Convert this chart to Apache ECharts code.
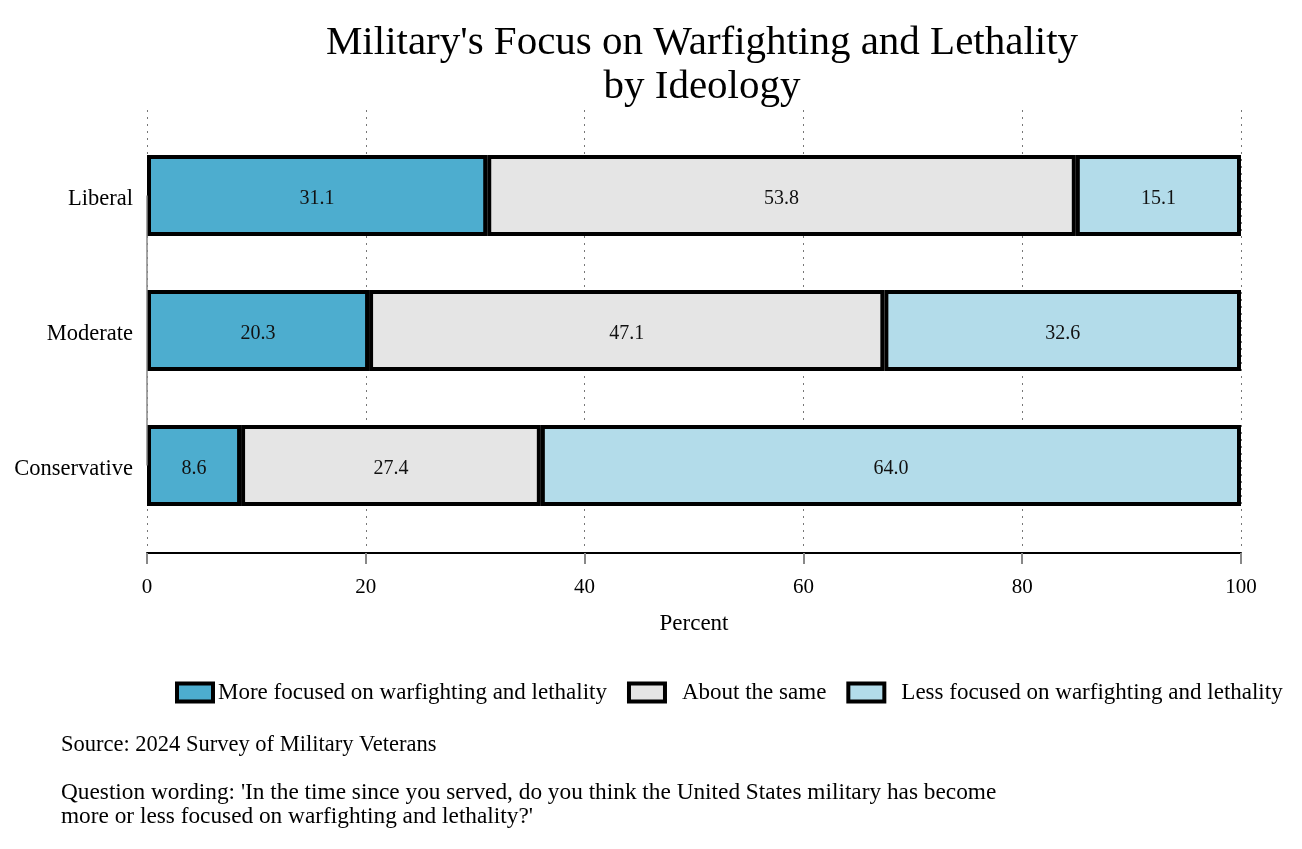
<!DOCTYPE html>
<html>
<head>
<meta charset="utf-8">
<script src="https://cdn.jsdelivr.net/npm/echarts@6/dist/echarts.min.js"></script>
<style>html,body{margin:0;padding:0;background:#fff;}#c{width:1302px;height:849px;}</style>
</head>
<body>
<div id="c"></div>
<script>
const categories = ['Liberal', 'Moderate', 'Conservative'];
const seriesNames = ['More focused on warfighting and lethality', 'About the same', 'Less focused on warfighting and lethality'];
const moreFocused = [31.1, 20.3, 8.6];
const aboutSame = [53.8, 47.1, 27.4];
const lessFocused = [15.1, 32.6, 64.0];
const xTicks = [0, 20, 40, 60, 80, 100];
const colors = ['#4DADCF', '#E5E5E5', '#B3DCEA'];
const FONT = '"Liberation Serif", "DejaVu Serif", serif';

const chart = echarts.init(document.getElementById('c'));
const values = [moreFocused, aboutSame, lessFocused];
const series = values.map((v, i) => ({
  name: seriesNames[i],
  type: 'bar',
  stack: 'total',
  xAxisIndex: 0,
  yAxisIndex: 0,
  barWidth: 81,
  data: v,
  itemStyle: { color: colors[i], borderColor: '#000', borderWidth: 4 },
  label: { show: true, position: 'inside', offset: [0, 3], formatter: p => p.value.toFixed(1), color: '#111', fontFamily: FONT, fontSize: 20 },
  emphasis: { disabled: true }
}));
series[0].markLine = {
  silent: true, symbol: 'none', label: { show: false },
  lineStyle: { color: '#888', width: 1.5, type: 'solid' },
  data: [[{ coord: [0, categories[0]] }, { coord: [0, categories[categories.length - 1]] }]]
};

chart.setOption({
  animation: false,
  textStyle: { fontFamily: FONT },
  title: {
    text: "Military's Focus on Warfighting and Lethality\nby Ideology",
    left: 697, top: 16, textAlign: 'center',
    textStyle: { fontFamily: FONT, fontSize: 41, fontWeight: 'normal', color: '#000', lineHeight: 44 }
  },
  legend: {
    data: [
      { name: seriesNames[0] },
      { name: seriesNames[1], textStyle: { padding: [0, 0, 0, 12] } },
      { name: seriesNames[2], textStyle: { padding: [0, 0, 0, 12] } }
    ],
    top: 676, left: 170,
    icon: 'rect',
    itemWidth: 36, itemHeight: 18, itemGap: 20, itemTextGap: 6,
    itemStyle: { borderColor: '#000', borderWidth: 4 },
    textStyle: { fontFamily: FONT, fontSize: 23, color: '#000' }
  },
  grid: [
    { left: 147, right: 61, top: 128, height: 405 },
    { left: 147, right: 61, top: 110, height: 438 },
    { left: 147, right: 61, top: 110, height: 443 }
  ],
  xAxis: [
    { gridIndex: 0, type: 'value', min: 0, max: 100, show: false },
    {
      gridIndex: 1, type: 'value', min: 0, max: 100, interval: 20,
      axisLine: { show: false }, axisTick: { show: false }, axisLabel: { show: false },
      splitLine: { show: true, lineStyle: { color: '#777', width: 1, type: [2, 5] } }
    },
    {
      gridIndex: 2, type: 'value', min: 0, max: 100, interval: 20,
      name: 'Percent', nameLocation: 'middle', nameGap: 59,
      nameTextStyle: { fontFamily: FONT, fontSize: 23, color: '#000' },
      axisLine: { show: true, lineStyle: { color: '#000', width: 2 } },
      axisTick: { show: true, length: 11, lineStyle: { color: '#888', width: 2 } },
      axisLabel: { fontFamily: FONT, fontSize: 21, color: '#000', margin: 24, customValues: xTicks },
      splitLine: { show: false }
    }
  ],
  yAxis: [
    {
      gridIndex: 0, type: 'category', data: categories, inverse: true,
      axisLine: { show: false }, axisTick: { show: false },
      axisLabel: { fontFamily: FONT, fontSize: 22.5, color: '#000', margin: 14, verticalAlign: 'top', lineHeight: 8 }
    },
    { gridIndex: 1, type: 'value', show: false },
    { gridIndex: 2, type: 'value', show: false }
  ],
  graphic: [
    { type: 'text', left: 61, top: 734, style: { text: 'Source: 2024 Survey of Military Veterans', fontFamily: FONT, fontSize: 22.5, fill: '#000' } },
    { type: 'text', left: 61, top: 781, style: { text: "Question wording: 'In the time since you served, do you think the United States military has become\nmore or less focused on warfighting and lethality?'", fontFamily: FONT, fontSize: 23.3, lineHeight: 24, fill: '#000' } }
  ],
  series: series
});
</script>
</body>
</html>
